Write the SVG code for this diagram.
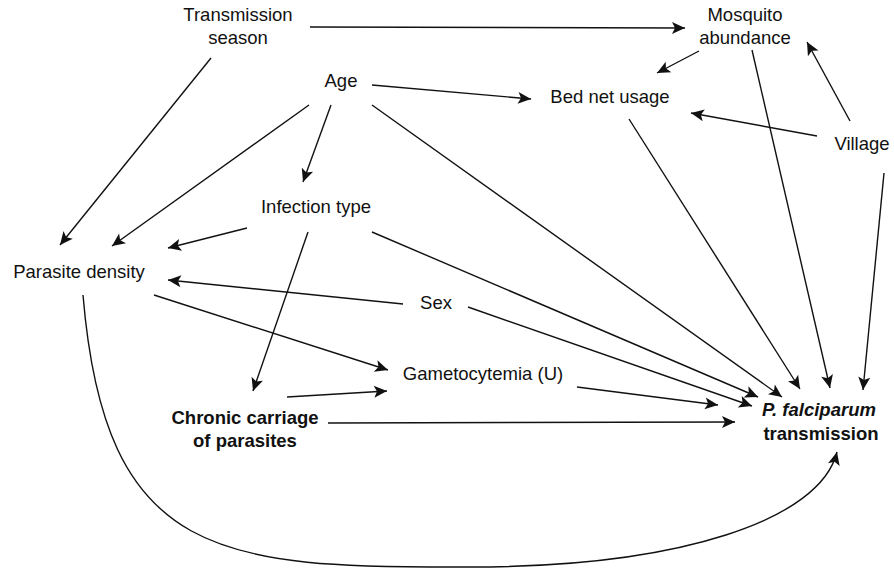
<svg xmlns="http://www.w3.org/2000/svg" width="894" height="573" viewBox="0 0 894 573">
  <style>
    .lbl { font-family: "Liberation Sans", Arial, Helvetica, sans-serif; font-size: 18.5px; fill: #111; text-anchor: middle; }
    .bold { font-weight: bold; }
    .edge { fill: none; stroke: #111; stroke-width: 1.4; marker-end: url(#arrow); }
  </style>
  <defs>
    <marker id="arrow" markerUnits="userSpaceOnUse" markerWidth="16" markerHeight="14" viewBox="-14 -7 15 14" refX="0" refY="0" orient="auto">
      <path d="M-13,-6 L0,0 L-13,6 L-10,0 Z" fill="#111"/>
    </marker>
  </defs>
  <rect width="894" height="573" fill="#fff"/>

  <!-- causal links -->
  <g id="connectors">
    <line class="edge" x1="310" y1="27" x2="685" y2="28"/>
    <line class="edge" x1="211" y1="58" x2="60" y2="245"/>
    <line class="edge" x1="372" y1="85" x2="531" y2="99"/>
    <line class="edge" x1="309" y1="105" x2="112" y2="246"/>
    <line class="edge" x1="331" y1="105" x2="303" y2="182"/>
    <line class="edge" x1="372" y1="105" x2="782" y2="397"/>
    <line class="edge" x1="247" y1="228" x2="168" y2="248"/>
    <line class="edge" x1="308" y1="232" x2="253" y2="391"/>
    <line class="edge" x1="372" y1="232" x2="758" y2="397"/>
    <line class="edge" x1="403" y1="304" x2="168" y2="280"/>
    <line class="edge" x1="468" y1="307" x2="752" y2="406"/>
    <line class="edge" x1="154" y1="295" x2="388" y2="370"/>
    <line class="edge" x1="287" y1="397" x2="387" y2="391"/>
    <line class="edge" x1="328" y1="423" x2="735" y2="422"/>
    <line class="edge" x1="577" y1="387" x2="718" y2="405"/>
    <path class="edge" d="M83,295 C105,560 220,568 470,567 C680,567 820,520 837,452"/>
    <line class="edge" x1="699" y1="51" x2="657" y2="73"/>
    <line class="edge" x1="752" y1="50" x2="830" y2="388"/>
    <line class="edge" x1="850" y1="121" x2="807" y2="42"/>
    <line class="edge" x1="817" y1="136" x2="691" y2="113"/>
    <line class="edge" x1="884" y1="173" x2="863" y2="390"/>
    <line class="edge" x1="629" y1="119" x2="800" y2="389"/>
  </g>

  <g id="transmission-season">
    <text class="lbl" x="238" y="21">Transmission</text>
    <text class="lbl" x="238" y="44">season</text>
  </g>
  <g id="mosquito-abundance">
    <text class="lbl" x="745" y="21">Mosquito</text>
    <text class="lbl" x="745" y="44">abundance</text>
  </g>
  <g id="age">
    <text class="lbl" x="341" y="87">Age</text>
  </g>
  <g id="bed-net-usage">
    <text class="lbl" x="610" y="103">Bed net usage</text>
  </g>
  <g id="village">
    <text class="lbl" x="862" y="150">Village</text>
  </g>
  <g id="infection-type">
    <text class="lbl" x="316" y="213">Infection type</text>
  </g>
  <g id="parasite-density">
    <text class="lbl" x="79" y="278">Parasite density</text>
  </g>
  <g id="sex">
    <text class="lbl" x="436" y="309">Sex</text>
  </g>
  <g id="gametocytemia">
    <text class="lbl" x="483" y="380">Gametocytemia (U)</text>
  </g>
  <g id="chronic-carriage">
    <text class="lbl bold" x="245" y="424">Chronic carriage</text>
    <text class="lbl bold" x="245" y="447">of parasites</text>
  </g>
  <g id="pf-transmission">
    <text class="lbl bold" x="819" y="416"><tspan font-style="italic">P. falciparum</tspan></text>
    <text class="lbl bold" x="821" y="440">transmission</text>
  </g>
</svg>
